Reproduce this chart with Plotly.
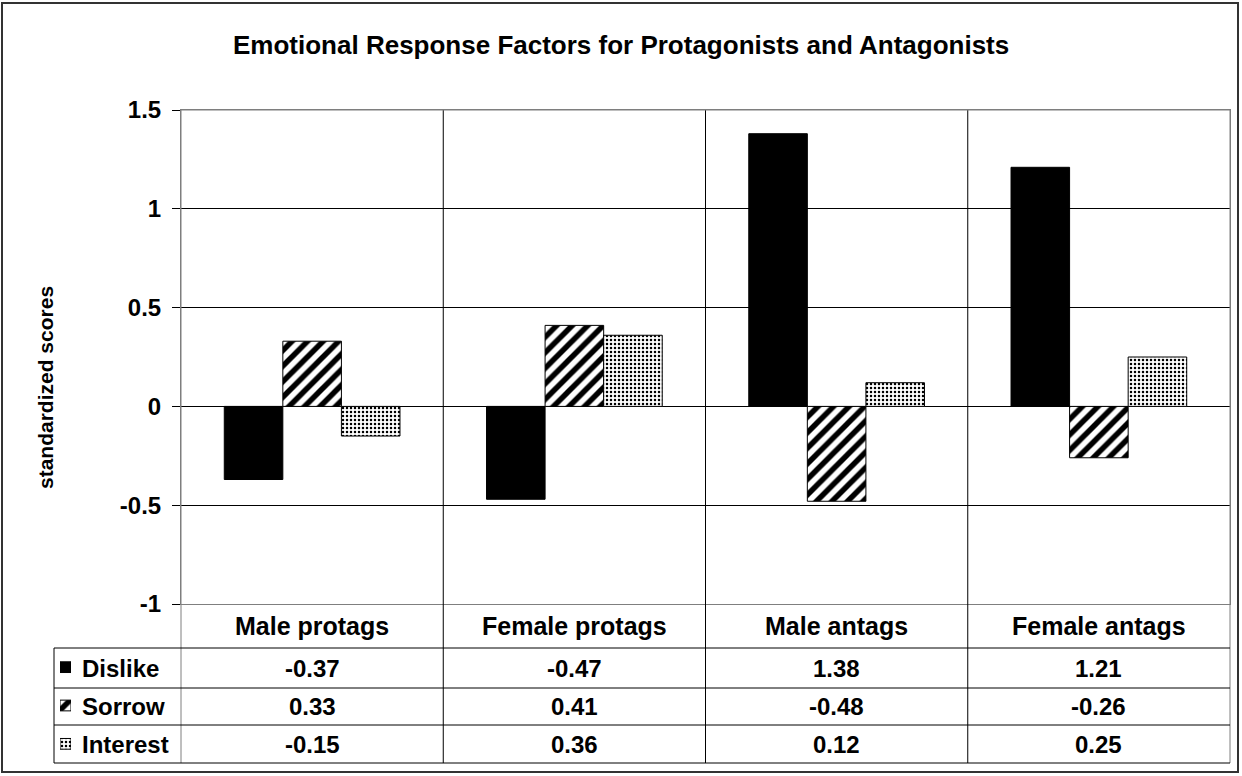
import plotly.graph_objects as go

W, H = 1242, 776

categories = ['Male protags', 'Female protags', 'Male antags', 'Female antags']
series_names = ['Dislike', 'Sorrow', 'Interest']
dislike = [-0.37, -0.47, 1.38, 1.21]
sorrow = [0.33, 0.41, -0.48, -0.26]
interest = [-0.15, 0.36, 0.12, 0.25]
tick_vals = [-1, -0.5, 0, 0.5, 1, 1.5]
tick_text = ['-1', '-0.5', '0', '0.5', '1', '1.5']

FONT = 'Liberation Sans, Arial, sans-serif'


def px_x(x):
    return x / W


def px_y(y):
    return 1 - y / H


# pixel layout of the chart frame and data table
PLOT_L, PLOT_R, PLOT_T, PLOT_B = 181, 1230, 110, 604
TABLE_L = 54
ROW_LINES = [648, 688, 725, 763]

styles = {
    'Dislike': dict(color='black', line=dict(color='black', width=1)),
    'Sorrow': dict(color='white', line=dict(color='black', width=1),
                   pattern=dict(shape='/', fgcolor='black', bgcolor='white',
                                fgopacity=1, size=11, solidity=0.5)),
    'Interest': dict(color='white', line=dict(color='black', width=1),
                     pattern=dict(shape='.', fgcolor='black', bgcolor='white',
                                  fgopacity=1, size=4, solidity=0.3)),
}
values = {'Dislike': dislike, 'Sorrow': sorrow, 'Interest': interest}

fig = go.Figure()

# Main grouped bars
for name in series_names:
    fig.add_trace(go.Bar(
        x=categories, y=values[name], name=name,
        marker=styles[name], showlegend=False, hoverinfo='x+y+name',
    ))

# Legend keys inside the data table (small bars on a hidden axis)
for name in series_names:
    fig.add_trace(go.Bar(
        y=[name], x=[1], orientation='h', xaxis='x2', yaxis='y2',
        width=0.28, offset=-0.14,
        marker=styles[name], showlegend=False, hoverinfo='skip',
    ))

shapes = []
line_dark = dict(color='black', width=1)
line_gray = dict(color='#7f7f7f', width=1)

# category separators running through plot and table
for i in range(len(categories) - 1):
    shapes.append(dict(type='line', xref='x', yref='paper',
                       x0=i + 0.5, x1=i + 0.5,
                       y0=px_y(ROW_LINES[-1]), y1=px_y(PLOT_T), line=line_dark))
# left / right frame down through the table
for xx in (PLOT_L, PLOT_R):
    shapes.append(dict(type='line', xref='paper', yref='paper',
                       x0=px_x(xx), x1=px_x(xx),
                       y0=px_y(ROW_LINES[-1]), y1=px_y(PLOT_T), line=line_gray))
# table horizontal lines
for yy in ROW_LINES:
    shapes.append(dict(type='line', xref='paper', yref='paper',
                       x0=px_x(TABLE_L), x1=px_x(PLOT_R),
                       y0=px_y(yy), y1=px_y(yy), line=line_dark))
shapes.append(dict(type='line', xref='paper', yref='paper',
                   x0=px_x(TABLE_L), x1=px_x(TABLE_L),
                   y0=px_y(ROW_LINES[0]), y1=px_y(ROW_LINES[-1]), line=line_dark))
# top frame line in gray
shapes.append(dict(type='line', xref='paper', yref='paper',
                   x0=px_x(PLOT_L), x1=px_x(PLOT_R),
                   y0=px_y(PLOT_T), y1=px_y(PLOT_T), line=line_gray))
# outer border
shapes.append(dict(type='rect', xref='paper', yref='paper',
                   x0=px_x(2), x1=px_x(1238), y0=px_y(772), y1=px_y(3),
                   line=dict(color='#333333', width=2)))

lab_font = dict(family=FONT, size=24, color='black', weight='bold')
annotations = []
# category labels row
for c in categories:
    annotations.append(dict(x=c, y=px_y((PLOT_B + ROW_LINES[0]) / 2),
                            xref='x', yref='paper', text=c, showarrow=False,
                            yanchor='middle',
                            font=dict(family=FONT, size=25, color='black',
                                      weight='bold')))
# table values
for r, name in enumerate(series_names):
    yc = px_y((ROW_LINES[r] + ROW_LINES[r + 1]) / 2)
    annotations.append(dict(x=px_x(80), y=yc, xref='paper', yref='paper',
                            text=name, showarrow=False, xanchor='left',
                            yanchor='middle', font=lab_font))
    for c, v in zip(categories, values[name]):
        annotations.append(dict(x=c, y=yc, xref='x', yref='paper',
                                text=f'{v:.2f}', showarrow=False,
                                yanchor='middle', font=lab_font))

# title and y-axis title
annotations.append(dict(x=0.5, y=px_y(45), xref='paper', yref='paper',
                        text='Emotional Response Factors for Protagonists and Antagonists',
                        showarrow=False, xanchor='center', yanchor='middle',
                        font=dict(family=FONT, size=26, color='black', weight='bold')))
annotations.append(dict(x=px_x(45), y=px_y(388), xref='paper', yref='paper',
                        text='standardized scores', textangle=-90, showarrow=False,
                        xanchor='center', yanchor='middle',
                        font=dict(family=FONT, size=21, color='black', weight='bold')))

fig.update_layout(
    width=W, height=H,
    margin=dict(l=0, r=0, t=0, b=0, pad=0),
    paper_bgcolor='white', plot_bgcolor='white',
    barmode='group', bargap=0.33, bargroupgap=0,
    xaxis=dict(domain=[px_x(PLOT_L), px_x(PLOT_R)], showticklabels=False,
               showgrid=False, zeroline=False, showline=True, mirror=True,
               linecolor='#7f7f7f', ticks='', automargin=False),
    yaxis=dict(domain=[px_y(PLOT_B), px_y(PLOT_T)], range=[-1, 1.5],
               tickvals=tick_vals, ticktext=tick_text,
               showgrid=True, gridcolor='black', gridwidth=1,
               zeroline=True, zerolinecolor='black', zerolinewidth=1,
               showline=True, mirror=True, linecolor='#7f7f7f',
               ticks='outside', ticklen=8, tickcolor='black',
               ticklabelstandoff=6, automargin=False,
               tickfont=dict(family=FONT, size=24, color='black', weight='bold')),
    xaxis2=dict(domain=[px_x(60), px_x(71)], range=[0, 1], anchor='y2',
                visible=False, fixedrange=True, automargin=False),
    yaxis2=dict(domain=[px_y(ROW_LINES[-1]), px_y(ROW_LINES[0])], anchor='x2',
                categoryorder='array', categoryarray=series_names[::-1],
                range=[-0.5, 2.5], visible=False, fixedrange=True,
                automargin=False),
    shapes=shapes,
    annotations=annotations,
)

fig.write_html("out.html", config={'displayModeBar': False},
               post_script="document.body.style.margin='0px';")
